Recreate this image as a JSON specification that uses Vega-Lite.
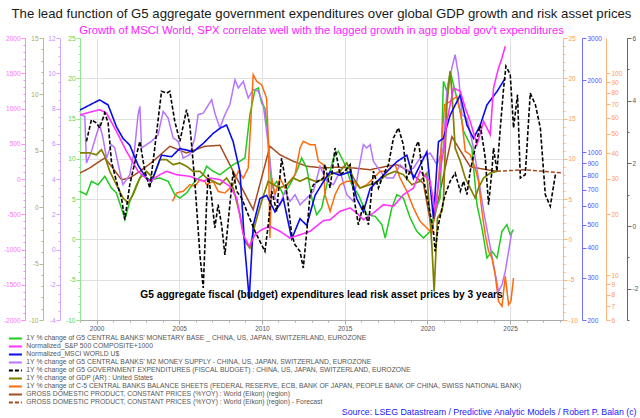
{
"$schema": "https://vega.github.io/schema/vega-lite/v6.json",
"width": 483, "height": 282,
"autosize": "none",
"padding": {"left": 80, "top": 38, "right": 77, "bottom": 98},
"title": {"text": "The lead function of G5 aggregate government expenditures over global GDP growth and risk asset prices", "subtitle": "Growth of MSCI World, SPX correlate well with the lagged growth in agg global gov't expenditures", "anchor": "middle", "frame": "group", "fontSize": 13.2, "fontWeight": "normal", "color": "#1a1a1a", "subtitleColor": "#ff1aff", "subtitleFontSize": 11.2, "subtitlePadding": 4, "offset": -2, "font": "Liberation Sans", "subtitleFont": "Liberation Sans"},
"data": {"values": [
{"k":"mb","t":1999.0,"v":5.97},{"k":"mb","t":1999.39,"v":5.55},{"k":"mb","t":1999.69,"v":7.21},{"k":"mb","t":2000.09,"v":6.79},{"k":"mb","t":2000.5,"v":7.84},{"k":"mb","t":2000.9,"v":6.38},{"k":"mb","t":2001.2,"v":5.76},{"k":"mb","t":2001.6,"v":3.28},{"k":"mb","t":2001.71,"v":2.45},{"k":"mb","t":2002.01,"v":4.73},{"k":"mb","t":2002.42,"v":6.79},{"k":"mb","t":2002.72,"v":8.03},{"k":"mb","t":2003.22,"v":7.41},{"k":"mb","t":2003.83,"v":7.62},{"k":"mb","t":2004.33,"v":7.21},{"k":"mb","t":2004.73,"v":5.55},{"k":"mb","t":2005.04,"v":5.14},{"k":"mb","t":2005.44,"v":5.76},{"k":"mb","t":2005.94,"v":7.21},{"k":"mb","t":2006.45,"v":8.03},{"k":"mb","t":2006.65,"v":9.08},{"k":"mb","t":2007.05,"v":8.46},{"k":"mb","t":2007.46,"v":8.03},{"k":"mb","t":2007.86,"v":8.65},{"k":"mb","t":2008.26,"v":9.28},{"k":"mb","t":2008.67,"v":9.7},{"k":"mb","t":2008.97,"v":10.11},{"k":"mb","t":2009.27,"v":15.48},{"k":"mb","t":2009.58,"v":18.58},{"k":"mb","t":2009.78,"v":18.79},{"k":"mb","t":2009.98,"v":16.93},{"k":"mb","t":2010.18,"v":16.31},{"k":"mb","t":2010.38,"v":12.59},{"k":"mb","t":2010.59,"v":6.38},{"k":"mb","t":2010.89,"v":7.21},{"k":"mb","t":2011.29,"v":5.55},{"k":"mb","t":2011.69,"v":6.79},{"k":"mb","t":2012.1,"v":8.46},{"k":"mb","t":2012.4,"v":10.11},{"k":"mb","t":2012.71,"v":8.87},{"k":"mb","t":2013.01,"v":5.14},{"k":"mb","t":2013.31,"v":3.07},{"k":"mb","t":2013.61,"v":3.9},{"k":"mb","t":2013.92,"v":6.79},{"k":"mb","t":2014.32,"v":10.11},{"k":"mb","t":2014.62,"v":10.94},{"k":"mb","t":2015.02,"v":9.28},{"k":"mb","t":2015.43,"v":6.79},{"k":"mb","t":2015.83,"v":5.55},{"k":"mb","t":2016.34,"v":3.07},{"k":"mb","t":2016.84,"v":2.87},{"k":"mb","t":2017.25,"v":1.83},{"k":"mb","t":2017.45,"v":0.18},{"k":"mb","t":2017.85,"v":3.9},{"k":"mb","t":2018.15,"v":5.55},{"k":"mb","t":2018.55,"v":5.14},{"k":"mb","t":2018.96,"v":2.66},{"k":"mb","t":2019.36,"v":1.01},{"k":"mb","t":2019.76,"v":0.18},{"k":"mb","t":2020.17,"v":1.01},{"k":"mb","t":2020.47,"v":3.49},{"k":"mb","t":2020.77,"v":5.14},{"k":"mb","t":2020.97,"v":19.63},{"k":"mb","t":2021.18,"v":18.38},{"k":"mb","t":2021.38,"v":20.87},{"k":"mb","t":2021.68,"v":18.38},{"k":"mb","t":2021.99,"v":15.9},{"k":"mb","t":2022.19,"v":13.42},{"k":"mb","t":2022.39,"v":12.59},{"k":"mb","t":2022.69,"v":11.35},{"k":"mb","t":2023.0,"v":4.31},{"k":"mb","t":2023.3,"v":1.42},{"k":"mb","t":2023.6,"v":-2.3},{"k":"mb","t":2023.9,"v":-1.47},{"k":"mb","t":2024.21,"v":-2.3},{"k":"mb","t":2024.51,"v":1.01},{"k":"mb","t":2024.81,"v":1.83},{"k":"mb","t":2025.01,"v":0.59},{"k":"mb","t":2025.21,"v":1.21},
{"k":"spx","t":1999.0,"v":912},{"k":"spx","t":2000.19,"v":983},{"k":"spx","t":2000.6,"v":936},{"k":"spx","t":2001.2,"v":677},{"k":"spx","t":2001.81,"v":393},{"k":"spx","t":2002.51,"v":109},{"k":"spx","t":2003.22,"v":-33},{"k":"spx","t":2003.83,"v":61},{"k":"spx","t":2004.23,"v":109},{"k":"spx","t":2004.84,"v":61},{"k":"spx","t":2005.64,"v":38},{"k":"spx","t":2006.45,"v":-33},{"k":"spx","t":2006.85,"v":14},{"k":"spx","t":2007.46,"v":-10},{"k":"spx","t":2008.06,"v":-103},{"k":"spx","t":2008.47,"v":-269},{"k":"spx","t":2008.87,"v":-790},{"k":"spx","t":2009.23,"v":-955},{"k":"spx","t":2009.58,"v":-790},{"k":"spx","t":2009.98,"v":-719},{"k":"spx","t":2010.48,"v":-671},{"k":"spx","t":2011.09,"v":-742},{"k":"spx","t":2011.69,"v":-837},{"k":"spx","t":2012.3,"v":-790},{"k":"spx","t":2012.91,"v":-742},{"k":"spx","t":2013.71,"v":-591},{"k":"spx","t":2014.12,"v":-577},{"k":"spx","t":2014.72,"v":-458},{"k":"spx","t":2015.33,"v":-411},{"k":"spx","t":2015.73,"v":-482},{"k":"spx","t":2016.13,"v":-577},{"k":"spx","t":2016.74,"v":-482},{"k":"spx","t":2017.34,"v":-364},{"k":"spx","t":2017.95,"v":-387},{"k":"spx","t":2018.55,"v":-223},{"k":"spx","t":2019.16,"v":-128},{"k":"spx","t":2019.56,"v":109},{"k":"spx","t":2020.17,"v":-33},{"k":"spx","t":2020.47,"v":-458},{"k":"spx","t":2020.77,"v":109},{"k":"spx","t":2021.04,"v":487},{"k":"spx","t":2021.18,"v":818},{"k":"spx","t":2021.58,"v":1291},{"k":"spx","t":2021.99,"v":1244},{"k":"spx","t":2022.29,"v":1007},{"k":"spx","t":2022.59,"v":818},{"k":"spx","t":2023.0,"v":487},{"k":"spx","t":2023.4,"v":818},{"k":"spx","t":2023.8,"v":628},{"k":"spx","t":2024.0,"v":1291},{"k":"spx","t":2024.3,"v":1574},{"k":"spx","t":2024.51,"v":1716},{"k":"spx","t":2024.71,"v":1882},
{"k":"msci","t":1999.0,"v":1503},{"k":"msci","t":1999.99,"v":1630},{"k":"msci","t":2000.19,"v":1655},{"k":"msci","t":2000.7,"v":1577},{"k":"msci","t":2001.2,"v":1281},{"k":"msci","t":2001.6,"v":1144},{"k":"msci","t":2002.01,"v":1072},{"k":"msci","t":2002.51,"v":885},{"k":"msci","t":2003.02,"v":778},{"k":"msci","t":2003.32,"v":754},{"k":"msci","t":2003.93,"v":974},{"k":"msci","t":2004.53,"v":959},{"k":"msci","t":2005.04,"v":1039},{"k":"msci","t":2005.84,"v":1006},{"k":"msci","t":2006.45,"v":1090},{"k":"msci","t":2007.05,"v":1200},{"k":"msci","t":2007.46,"v":1260},{"k":"msci","t":2007.86,"v":1301},{"k":"msci","t":2008.26,"v":1108},{"k":"msci","t":2008.67,"v":830},{"k":"msci","t":2008.97,"v":396},{"k":"msci","t":2009.23,"v":245},{"k":"msci","t":2009.47,"v":496},{"k":"msci","t":2009.88,"v":642},{"k":"msci","t":2010.28,"v":662},{"k":"msci","t":2010.79,"v":565},{"k":"msci","t":2011.29,"v":642},{"k":"msci","t":2011.8,"v":436},{"k":"msci","t":2012.3,"v":529},{"k":"msci","t":2012.71,"v":496},{"k":"msci","t":2013.21,"v":662},{"k":"msci","t":2013.71,"v":754},{"k":"msci","t":2014.12,"v":830},{"k":"msci","t":2014.72,"v":803},{"k":"msci","t":2015.33,"v":830},{"k":"msci","t":2015.73,"v":642},{"k":"msci","t":2016.13,"v":565},{"k":"msci","t":2016.54,"v":707},{"k":"msci","t":2016.94,"v":754},{"k":"msci","t":2017.55,"v":830},{"k":"msci","t":2018.15,"v":914},{"k":"msci","t":2018.76,"v":974},{"k":"msci","t":2019.16,"v":778},{"k":"msci","t":2019.56,"v":885},{"k":"msci","t":2019.97,"v":1006},{"k":"msci","t":2020.37,"v":529},{"k":"msci","t":2020.67,"v":1108},{"k":"msci","t":2020.97,"v":1144},{"k":"msci","t":2021.38,"v":1432},{"k":"msci","t":2021.99,"v":1737},{"k":"msci","t":2022.39,"v":1301},{"k":"msci","t":2022.79,"v":1144},{"k":"msci","t":2023.2,"v":1301},{"k":"msci","t":2023.6,"v":1577},{"k":"msci","t":2024.21,"v":1795},{"k":"msci","t":2024.71,"v":2040},
{"k":"m2","t":1999.0,"v":7.65},{"k":"m2","t":1999.29,"v":7.56},{"k":"m2","t":1999.39,"v":4.91},{"k":"m2","t":1999.69,"v":5.57},{"k":"m2","t":1999.99,"v":6.51},{"k":"m2","t":2000.19,"v":7.08},{"k":"m2","t":2000.39,"v":6.33},{"k":"m2","t":2000.6,"v":5.19},{"k":"m2","t":2000.9,"v":5.95},{"k":"m2","t":2001.1,"v":5.76},{"k":"m2","t":2001.4,"v":4.44},{"k":"m2","t":2001.6,"v":3.68},{"k":"m2","t":2002.01,"v":4.24},{"k":"m2","t":2002.31,"v":5.76},{"k":"m2","t":2002.51,"v":7.65},{"k":"m2","t":2002.62,"v":8.12},{"k":"m2","t":2002.72,"v":5.76},{"k":"m2","t":2003.02,"v":5.95},{"k":"m2","t":2003.32,"v":6.14},{"k":"m2","t":2003.72,"v":6.51},{"k":"m2","t":2004.03,"v":7.84},{"k":"m2","t":2004.33,"v":7.46},{"k":"m2","t":2004.63,"v":6.33},{"k":"m2","t":2004.93,"v":6.14},{"k":"m2","t":2005.24,"v":5.19},{"k":"m2","t":2005.64,"v":5.38},{"k":"m2","t":2005.94,"v":6.33},{"k":"m2","t":2006.14,"v":7.65},{"k":"m2","t":2006.45,"v":7.74},{"k":"m2","t":2006.65,"v":8.03},{"k":"m2","t":2006.96,"v":8.5},{"k":"m2","t":2007.15,"v":7.74},{"k":"m2","t":2007.46,"v":6.89},{"k":"m2","t":2007.76,"v":7.65},{"k":"m2","t":2008.06,"v":8.22},{"k":"m2","t":2008.37,"v":9.63},{"k":"m2","t":2008.57,"v":9.16},{"k":"m2","t":2008.87,"v":9.54},{"k":"m2","t":2009.17,"v":8.6},{"k":"m2","t":2009.47,"v":9.07},{"k":"m2","t":2009.78,"v":8.98},{"k":"m2","t":2010.08,"v":8.22},{"k":"m2","t":2010.38,"v":5.95},{"k":"m2","t":2010.59,"v":4.06},{"k":"m2","t":2010.79,"v":2.92},{"k":"m2","t":2011.09,"v":2.54},{"k":"m2","t":2011.39,"v":3.3},{"k":"m2","t":2011.69,"v":2.73},{"k":"m2","t":2012.0,"v":3.11},{"k":"m2","t":2012.3,"v":2.54},{"k":"m2","t":2012.71,"v":2.92},{"k":"m2","t":2013.11,"v":3.3},{"k":"m2","t":2013.51,"v":4.72},{"k":"m2","t":2013.92,"v":3.87},{"k":"m2","t":2014.32,"v":3.68},{"k":"m2","t":2014.72,"v":4.44},{"k":"m2","t":2015.13,"v":3.11},{"k":"m2","t":2015.53,"v":2.73},{"k":"m2","t":2015.83,"v":4.44},{"k":"m2","t":2016.13,"v":5.95},{"k":"m2","t":2016.34,"v":5.76},{"k":"m2","t":2016.54,"v":5.95},{"k":"m2","t":2016.74,"v":5.0},{"k":"m2","t":2017.14,"v":4.44},{"k":"m2","t":2017.55,"v":4.06},{"k":"m2","t":2017.95,"v":4.06},{"k":"m2","t":2018.35,"v":4.81},{"k":"m2","t":2018.76,"v":4.44},{"k":"m2","t":2019.16,"v":4.62},{"k":"m2","t":2019.56,"v":5.19},{"k":"m2","t":2020.17,"v":5.47},{"k":"m2","t":2020.58,"v":4.81},{"k":"m2","t":2020.97,"v":5.76},{"k":"m2","t":2021.18,"v":8.98},{"k":"m2","t":2021.48,"v":10.3},{"k":"m2","t":2021.68,"v":11.05},{"k":"m2","t":2021.88,"v":9.92},{"k":"m2","t":2022.09,"v":7.65},{"k":"m2","t":2022.39,"v":7.46},{"k":"m2","t":2022.79,"v":5.76},{"k":"m2","t":2023.09,"v":4.06},{"k":"m2","t":2023.4,"v":2.17},{"k":"m2","t":2023.7,"v":0.65},{"k":"m2","t":2024.0,"v":-0.86},{"k":"m2","t":2024.3,"v":-2.37},{"k":"m2","t":2024.51,"v":-2.0},{"k":"m2","t":2024.71,"v":-1.24},{"k":"m2","t":2024.91,"v":-0.1},{"k":"m2","t":2025.11,"v":1.03},
{"k":"gov","t":1999.39,"v":2.7},{"k":"gov","t":1999.69,"v":3.39},{"k":"gov","t":1999.99,"v":3.29},{"k":"gov","t":2000.19,"v":3.13},{"k":"gov","t":2000.5,"v":3.61},{"k":"gov","t":2000.7,"v":3.29},{"k":"gov","t":2000.9,"v":2.06},{"k":"gov","t":2001.2,"v":1.43},{"k":"gov","t":2001.51,"v":0.89},{"k":"gov","t":2001.71,"v":0.2},{"k":"gov","t":2002.01,"v":1.32},{"k":"gov","t":2002.42,"v":2.28},{"k":"gov","t":2002.62,"v":2.7},{"k":"gov","t":2002.92,"v":1.75},{"k":"gov","t":2003.22,"v":1.21},{"k":"gov","t":2003.52,"v":2.49},{"k":"gov","t":2003.93,"v":4.3},{"k":"gov","t":2004.23,"v":4.24},{"k":"gov","t":2004.43,"v":4.3},{"k":"gov","t":2004.73,"v":3.34},{"k":"gov","t":2005.04,"v":2.7},{"k":"gov","t":2005.44,"v":3.71},{"k":"gov","t":2005.64,"v":3.23},{"k":"gov","t":2005.94,"v":1.43},{"k":"gov","t":2006.25,"v":-0.92},{"k":"gov","t":2006.45,"v":-1.98},{"k":"gov","t":2006.65,"v":0.68},{"k":"gov","t":2006.75,"v":1.64},{"k":"gov","t":2006.96,"v":0.89},{"k":"gov","t":2007.15,"v":-0.06},{"k":"gov","t":2007.35,"v":0.68},{"k":"gov","t":2007.56,"v":0.04},{"k":"gov","t":2007.76,"v":-0.92},{"k":"gov","t":2008.06,"v":0.68},{"k":"gov","t":2008.26,"v":1.75},{"k":"gov","t":2008.47,"v":1.11},{"k":"gov","t":2008.77,"v":0.89},{"k":"gov","t":2009.17,"v":0.36},{"k":"gov","t":2009.58,"v":-0.17},{"k":"gov","t":2009.88,"v":-0.49},{"k":"gov","t":2010.18,"v":-0.81},{"k":"gov","t":2010.38,"v":0.04},{"k":"gov","t":2010.59,"v":1.11},{"k":"gov","t":2010.89,"v":0.47},{"k":"gov","t":2011.19,"v":2.17},{"k":"gov","t":2011.39,"v":1.53},{"k":"gov","t":2011.59,"v":0.68},{"k":"gov","t":2011.8,"v":-0.28},{"k":"gov","t":2012.0,"v":-0.6},{"k":"gov","t":2012.3,"v":-0.81},{"k":"gov","t":2012.5,"v":-1.34},{"k":"gov","t":2012.71,"v":-0.17},{"k":"gov","t":2012.91,"v":1.0},{"k":"gov","t":2013.11,"v":1.32},{"k":"gov","t":2013.41,"v":1.43},{"k":"gov","t":2013.71,"v":1.53},{"k":"gov","t":2013.81,"v":1.96},{"k":"gov","t":2014.12,"v":1.21},{"k":"gov","t":2014.42,"v":2.49},{"k":"gov","t":2014.72,"v":1.64},{"k":"gov","t":2015.02,"v":1.75},{"k":"gov","t":2015.33,"v":1.96},{"k":"gov","t":2015.63,"v":0.68},{"k":"gov","t":2015.83,"v":0.04},{"k":"gov","t":2016.13,"v":0.68},{"k":"gov","t":2016.44,"v":0.04},{"k":"gov","t":2016.74,"v":1.75},{"k":"gov","t":2017.04,"v":1.21},{"k":"gov","t":2017.34,"v":1.64},{"k":"gov","t":2017.65,"v":1.96},{"k":"gov","t":2017.95,"v":2.81},{"k":"gov","t":2018.25,"v":3.13},{"k":"gov","t":2018.55,"v":2.59},{"k":"gov","t":2018.76,"v":1.53},{"k":"gov","t":2018.96,"v":1.75},{"k":"gov","t":2019.26,"v":2.49},{"k":"gov","t":2019.46,"v":2.7},{"k":"gov","t":2019.76,"v":1.53},{"k":"gov","t":2020.07,"v":0.68},{"k":"gov","t":2020.37,"v":-0.17},{"k":"gov","t":2020.47,"v":-0.81},{"k":"gov","t":2020.67,"v":0.04},{"k":"gov","t":2020.97,"v":0.79},{"k":"gov","t":2021.08,"v":1.0},{"k":"gov","t":2021.38,"v":1.43},{"k":"gov","t":2021.68,"v":1.69},{"k":"gov","t":2021.99,"v":1.11},{"k":"gov","t":2022.19,"v":1.43},{"k":"gov","t":2022.39,"v":1.0},{"k":"gov","t":2022.59,"v":1.75},{"k":"gov","t":2022.89,"v":2.49},{"k":"gov","t":2023.2,"v":3.23},{"k":"gov","t":2023.5,"v":2.17},{"k":"gov","t":2023.7,"v":0.68},{"k":"gov","t":2023.9,"v":1.75},{"k":"gov","t":2024.0,"v":2.49},{"k":"gov","t":2024.21,"v":1.75},{"k":"gov","t":2024.41,"v":3.13},{"k":"gov","t":2024.61,"v":4.4},{"k":"gov","t":2024.75,"v":5.1},{"k":"gov","t":2025.01,"v":4.83},{"k":"gov","t":2025.21,"v":3.13},{"k":"gov","t":2025.45,"v":4.19},{"k":"gov","t":2025.62,"v":1.53},{"k":"gov","t":2025.92,"v":1.64},{"k":"gov","t":2026.22,"v":4.24},{"k":"gov","t":2026.53,"v":3.87},{"k":"gov","t":2026.83,"v":3.13},{"k":"gov","t":2027.13,"v":1.0},{"k":"gov","t":2027.43,"v":0.63},{"k":"gov","t":2027.74,"v":1.64},
{"k":"usgdp","t":1999.0,"v":4.81},{"k":"usgdp","t":1999.59,"v":4.81},{"k":"usgdp","t":1999.99,"v":4.65},{"k":"usgdp","t":2000.3,"v":5.1},{"k":"usgdp","t":2000.5,"v":4.51},{"k":"usgdp","t":2000.8,"v":3.18},{"k":"usgdp","t":2001.2,"v":2.0},{"k":"usgdp","t":2001.6,"v":0.82},{"k":"usgdp","t":2001.91,"v":0.37},{"k":"usgdp","t":2002.21,"v":1.11},{"k":"usgdp","t":2002.62,"v":2.59},{"k":"usgdp","t":2003.02,"v":3.18},{"k":"usgdp","t":2003.42,"v":2.59},{"k":"usgdp","t":2003.83,"v":4.21},{"k":"usgdp","t":2004.23,"v":4.21},{"k":"usgdp","t":2004.63,"v":3.77},{"k":"usgdp","t":2005.04,"v":3.92},{"k":"usgdp","t":2005.44,"v":3.63},{"k":"usgdp","t":2005.84,"v":3.18},{"k":"usgdp","t":2006.25,"v":3.18},{"k":"usgdp","t":2006.65,"v":2.59},{"k":"usgdp","t":2007.05,"v":2.3},{"k":"usgdp","t":2007.46,"v":2.0},{"k":"usgdp","t":2007.86,"v":2.59},{"k":"usgdp","t":2008.26,"v":1.7},{"k":"usgdp","t":2008.67,"v":-0.66},{"k":"usgdp","t":2008.97,"v":-3.02},{"k":"usgdp","t":2009.27,"v":-3.62},{"k":"usgdp","t":2009.58,"v":-1.55},{"k":"usgdp","t":2009.98,"v":0.52},{"k":"usgdp","t":2010.38,"v":2.3},{"k":"usgdp","t":2010.68,"v":2.0},{"k":"usgdp","t":2011.09,"v":1.7},{"k":"usgdp","t":2011.5,"v":2.0},{"k":"usgdp","t":2011.89,"v":2.59},{"k":"usgdp","t":2012.3,"v":2.3},{"k":"usgdp","t":2012.71,"v":2.59},{"k":"usgdp","t":2013.21,"v":2.3},{"k":"usgdp","t":2013.71,"v":2.44},{"k":"usgdp","t":2014.12,"v":2.88},{"k":"usgdp","t":2014.72,"v":3.18},{"k":"usgdp","t":2015.13,"v":3.92},{"k":"usgdp","t":2015.53,"v":2.59},{"k":"usgdp","t":2015.93,"v":1.7},{"k":"usgdp","t":2016.54,"v":2.0},{"k":"usgdp","t":2017.04,"v":2.3},{"k":"usgdp","t":2017.55,"v":2.88},{"k":"usgdp","t":2018.05,"v":3.18},{"k":"usgdp","t":2018.55,"v":2.88},{"k":"usgdp","t":2019.06,"v":2.0},{"k":"usgdp","t":2019.56,"v":2.3},{"k":"usgdp","t":2019.97,"v":3.03},{"k":"usgdp","t":2020.27,"v":-3.32},{"k":"usgdp","t":2020.41,"v":-7.46},{"k":"usgdp","t":2020.61,"v":-0.96},{"k":"usgdp","t":2020.88,"v":-0.36},{"k":"usgdp","t":2020.97,"v":0.52},{"k":"usgdp","t":2021.18,"v":9.09},{"k":"usgdp","t":2021.38,"v":12.05},{"k":"usgdp","t":2021.48,"v":10.27},{"k":"usgdp","t":2021.68,"v":5.25},{"k":"usgdp","t":2021.99,"v":4.07},{"k":"usgdp","t":2022.29,"v":2.59},{"k":"usgdp","t":2022.59,"v":1.7},{"k":"usgdp","t":2022.89,"v":0.82},{"k":"usgdp","t":2023.09,"v":1.7},{"k":"usgdp","t":2023.4,"v":2.59},{"k":"usgdp","t":2023.8,"v":3.03},{"k":"usgdp","t":2024.21,"v":3.18},
{"k":"cb5","t":2004.59,"v":4.73},{"k":"cb5","t":2004.84,"v":5.76},{"k":"cb5","t":2005.24,"v":5.97},{"k":"cb5","t":2005.64,"v":6.79},{"k":"cb5","t":2005.94,"v":6.59},{"k":"cb5","t":2006.25,"v":7.41},{"k":"cb5","t":2006.55,"v":7.21},{"k":"cb5","t":2006.65,"v":6.79},{"k":"cb5","t":2007.05,"v":7.21},{"k":"cb5","t":2007.35,"v":5.97},{"k":"cb5","t":2007.76,"v":5.76},{"k":"cb5","t":2008.26,"v":6.79},{"k":"cb5","t":2008.57,"v":8.46},{"k":"cb5","t":2008.87,"v":7.62},{"k":"cb5","t":2009.17,"v":8.87},{"k":"cb5","t":2009.38,"v":16.72},{"k":"cb5","t":2009.47,"v":20.45},{"k":"cb5","t":2009.68,"v":19.63},{"k":"cb5","t":2009.98,"v":19.2},{"k":"cb5","t":2010.28,"v":17.55},{"k":"cb5","t":2010.38,"v":12.59},{"k":"cb5","t":2010.48,"v":0.18},{"k":"cb5","t":2010.59,"v":7.62},{"k":"cb5","t":2010.79,"v":5.55},{"k":"cb5","t":2011.09,"v":7.62},{"k":"cb5","t":2011.39,"v":6.38},{"k":"cb5","t":2011.69,"v":7.21},{"k":"cb5","t":2012.0,"v":8.03},{"k":"cb5","t":2012.3,"v":11.35},{"k":"cb5","t":2012.5,"v":12.18},{"k":"cb5","t":2012.91,"v":11.76},{"k":"cb5","t":2013.21,"v":11.76},{"k":"cb5","t":2013.41,"v":9.7},{"k":"cb5","t":2013.71,"v":9.28},{"k":"cb5","t":2013.81,"v":5.55},{"k":"cb5","t":2014.12,"v":3.49},{"k":"cb5","t":2014.42,"v":5.55},{"k":"cb5","t":2014.72,"v":6.79},{"k":"cb5","t":2015.13,"v":7.21},{"k":"cb5","t":2015.53,"v":7.21},{"k":"cb5","t":2015.93,"v":6.38},{"k":"cb5","t":2016.34,"v":6.79},{"k":"cb5","t":2016.74,"v":7.62},{"k":"cb5","t":2017.14,"v":8.46},{"k":"cb5","t":2017.55,"v":8.46},{"k":"cb5","t":2017.85,"v":9.08},{"k":"cb5","t":2018.05,"v":9.28},{"k":"cb5","t":2018.35,"v":7.62},{"k":"cb5","t":2018.76,"v":5.97},{"k":"cb5","t":2019.16,"v":3.9},{"k":"cb5","t":2019.56,"v":2.25},{"k":"cb5","t":2019.97,"v":1.42},{"k":"cb5","t":2020.27,"v":0.8},{"k":"cb5","t":2020.58,"v":5.14},{"k":"cb5","t":2020.88,"v":12.59},{"k":"cb5","t":2021.04,"v":16.72},{"k":"cb5","t":2021.38,"v":17.14},{"k":"cb5","t":2021.79,"v":17.76},{"k":"cb5","t":2022.09,"v":14.66},{"k":"cb5","t":2022.29,"v":10.94},{"k":"cb5","t":2022.59,"v":10.52},{"k":"cb5","t":2022.89,"v":8.87},{"k":"cb5","t":2023.09,"v":7.21},{"k":"cb5","t":2023.3,"v":3.49},{"k":"cb5","t":2023.5,"v":0.59},{"k":"cb5","t":2023.7,"v":-1.47},{"k":"cb5","t":2023.9,"v":-2.3},{"k":"cb5","t":2024.1,"v":-4.38},{"k":"cb5","t":2024.3,"v":-7.68},{"k":"cb5","t":2024.51,"v":-8.3},{"k":"cb5","t":2024.71,"v":-4.58},{"k":"cb5","t":2024.91,"v":-8.1},{"k":"cb5","t":2025.05,"v":-7.68},{"k":"cb5","t":2025.21,"v":-4.79},
{"k":"wgdp","t":1999.0,"v":3.03},{"k":"wgdp","t":1999.59,"v":3.48},{"k":"wgdp","t":2000.19,"v":4.07},{"k":"wgdp","t":2000.5,"v":4.36},{"k":"wgdp","t":2000.9,"v":3.63},{"k":"wgdp","t":2001.51,"v":2.44},{"k":"wgdp","t":2002.01,"v":2.59},{"k":"wgdp","t":2002.62,"v":3.18},{"k":"wgdp","t":2003.42,"v":4.07},{"k":"wgdp","t":2004.43,"v":5.4},{"k":"wgdp","t":2005.44,"v":4.81},{"k":"wgdp","t":2006.55,"v":5.4},{"k":"wgdp","t":2007.46,"v":5.49},{"k":"wgdp","t":2008.26,"v":3.18},{"k":"wgdp","t":2009.47,"v":-0.22},{"k":"wgdp","t":2010.48,"v":5.4},{"k":"wgdp","t":2011.09,"v":4.65},{"k":"wgdp","t":2011.89,"v":4.07},{"k":"wgdp","t":2012.71,"v":3.63},{"k":"wgdp","t":2013.71,"v":3.48},{"k":"wgdp","t":2014.52,"v":3.54},{"k":"wgdp","t":2015.53,"v":3.48},{"k":"wgdp","t":2016.54,"v":3.32},{"k":"wgdp","t":2017.55,"v":3.63},{"k":"wgdp","t":2018.15,"v":3.77},{"k":"wgdp","t":2018.76,"v":3.3},{"k":"wgdp","t":2019.76,"v":2.12},{"k":"wgdp","t":2020.27,"v":-2.02},{"k":"wgdp","t":2021.48,"v":6.25},{"k":"wgdp","t":2022.59,"v":3.59},{"k":"wgdp","t":2023.6,"v":3.32},{"k":"wgdp","t":2024.21,"v":3.18},
{"k":"wgdpf","t":2024.21,"v":3.18},{"k":"wgdpf","t":2025.82,"v":3.32},{"k":"wgdpf","t":2026.83,"v":3.2},{"k":"wgdpf","t":2028.2,"v":3.03}
]},
"encoding": {
"x": {"field": "t", "type": "quantitative", "scale": {"domain": [1999, 2028.2], "nice": false, "zero": false},
 "axis": {"values": [1999,2000,2001,2002,2003,2004,2005,2006,2007,2008,2009,2010,2011,2012,2013,2014,2015,2016,2017,2018,2019,2020,2021,2022,2023,2024,2025,2026,2027,2028], "labelExpr": "datum.value % 5 === 0 ? '' + datum.value : ''", "tickSize": {"condition": {"test": "datum.value % 5 === 0", "value": 4}, "value": 2}, "grid": true, "gridColor": "#e0e0e0", "gridOpacity": {"condition": {"test": "datum.value % 5 === 0", "value": 1}, "value": 0}, "domainColor": "#aaaaaa", "tickColor": "#aaaaaa", "labelColor": "#555555", "labelFontSize": 6.5, "title": "Source: LSEG Datastream / Predictive Analytic Models / Robert P. Balan (c)", "titleColor": "#1a1aff", "titleFontSize": 8.8, "titleFontWeight": "normal", "titleAnchor": "end", "titleAlign": "right", "titleX": 556, "titleY": 96, "titleBaseline": "bottom"}}
},
"layer": [
{"layer": [
{"transform": [{"filter": "datum.k === 'wgdp'"}], "mark": {"type": "line", "strokeWidth": 1.5},
 "encoding": {"y": {"field": "v", "type": "quantitative", "scale": {"domain": [-10, 15], "nice": false, "zero": false}, "axis": null}}},
{"transform": [{"filter": "datum.k === 'wgdpf'"}], "mark": {"type": "line", "strokeWidth": 1.5},
 "encoding": {"y": {"field": "v", "type": "quantitative", "scale": {"domain": [-10, 15], "nice": false, "zero": false}, "axis": null}}},
{"transform": [{"filter": "datum.k === 'mb'"}], "mark": {"type": "line", "strokeWidth": 1.5},
 "encoding": {"y": {"field": "v", "type": "quantitative", "scale": {"domain": [-10, 25], "nice": false, "zero": false},
  "axis": {"orient": "left", "offset": 0, "title": null, "values": [-10,-9,-8,-7,-6,-5,-4,-3,-2,-1,0,1,2,3,4,5,6,7,8,9,10,11,12,13,14,15,16,17,18,19,20,21,22,23,24,25], "labelExpr": "datum.value % 5 === 0 ? '' + datum.value : ''", "tickSize": {"condition": {"test": "datum.value % 5 === 0", "value": 4}, "value": 2}, "domainColor": "#8ee88e", "tickColor": "#8ee88e", "labelColor": "#52d452", "grid": true, "gridColor": "#e0e0e0", "gridOpacity": {"condition": {"test": "datum.value % 5 === 0 && datum.value > -10 && datum.value < 25", "value": 1}, "value": 0}}}}},
{"transform": [{"filter": "datum.k === 'm2'"}], "mark": {"type": "line", "strokeWidth": 1.5},
 "encoding": {"y": {"field": "v", "type": "quantitative", "scale": {"domain": [-4, 12], "nice": false, "zero": false},
  "axis": {"orient": "left", "offset": 20, "title": null, "values": [-4,-3.5,-3,-2.5,-2,-1.5,-1,-0.5,0,0.5,1,1.5,2,2.5,3,3.5,4,4.5,5,5.5,6,6.5,7,7.5,8,8.5,9,9.5,10,10.5,11,11.5,12], "labelExpr": "datum.value % 2 === 0 ? '' + datum.value : ''", "tickSize": {"condition": {"test": "datum.value % 2 === 0", "value": 4}, "value": 2}, "domainColor": "#cfa8ff", "tickColor": "#cfa8ff", "labelColor": "#c08cff"}}}},
{"transform": [{"filter": "datum.k === 'cb5'"}], "mark": {"type": "line", "strokeWidth": 1.5},
 "encoding": {"y": {"field": "v", "type": "quantitative", "scale": {"domain": [-10, 25], "nice": false, "zero": false},
  "axis": {"orient": "right", "offset": 0, "title": null, "values": [-10,-9,-8,-7,-6,-5,-4,-3,-2,-1,0,1,2,3,4,5,6,7,8,9,10,11,12,13,14,15,16,17,18,19,20,21,22,23,24,25], "labelExpr": "datum.value % 5 === 0 ? '' + datum.value : ''", "tickSize": {"condition": {"test": "datum.value % 5 === 0", "value": 4}, "value": 2}, "domainColor": "#ffb27a", "tickColor": "#ffb27a", "labelColor": "#ff9a55"}}}},
{"transform": [{"filter": "datum.k === 'usgdp'"}], "mark": {"type": "line", "strokeWidth": 1.7},
 "encoding": {"y": {"field": "v", "type": "quantitative", "scale": {"domain": [-10, 15], "nice": false, "zero": false},
  "axis": {"orient": "left", "offset": 37, "title": null, "values": [-10,-9,-8,-7,-6,-5,-4,-3,-2,-1,0,1,2,3,4,5,6,7,8,9,10,11,12,13,14,15], "labelExpr": "datum.value % 5 === 0 ? '' + datum.value : ''", "tickSize": {"condition": {"test": "datum.value % 5 === 0", "value": 4}, "value": 2}, "domainColor": "#bdbd75", "tickColor": "#bdbd75", "labelColor": "#a8a860"}}}},
{"transform": [{"filter": "datum.k === 'msci'"}], "mark": {"type": "line", "strokeWidth": 1.6},
 "encoding": {"y": {"field": "v", "type": "quantitative", "scale": {"type": "log", "domain": [200, 3000], "nice": false, "zero": false},
  "axis": {"orient": "right", "offset": 19, "title": null, "values": [200,300,400,500,600,700,800,900,1000,2000,3000], "labelExpr": "'' + datum.value", "tickSize": 4, "domainColor": "#7070ff", "tickColor": "#7070ff", "labelColor": "#5050ff"}}}},
{"transform": [{"filter": "datum.k === 'spx'"}], "mark": {"type": "line", "strokeWidth": 1.6},
 "encoding": {"y": {"field": "v", "type": "quantitative", "scale": {"domain": [-2000, 2000], "nice": false, "zero": false},
  "axis": {"orient": "left", "offset": 55, "title": null, "values": [-2000,-1900,-1800,-1700,-1600,-1500,-1400,-1300,-1200,-1100,-1000,-900,-800,-700,-600,-500,-400,-300,-200,-100,0,100,200,300,400,500,600,700,800,900,1000,1100,1200,1300,1400,1500,1600,1700,1800,1900,2000], "labelExpr": "datum.value % 500 === 0 ? '' + datum.value : ''", "tickSize": {"condition": {"test": "datum.value % 500 === 0", "value": 4}, "value": 2}, "domainColor": "#ff85ff", "tickColor": "#ff85ff", "labelColor": "#ff70ff"}}}},
{"transform": [{"filter": "datum.k === 'gov'"}], "mark": {"type": "line", "strokeWidth": 1.6},
 "encoding": {"y": {"field": "v", "type": "quantitative", "scale": {"domain": [-3, 6], "nice": false, "zero": false},
  "axis": {"orient": "right", "offset": 64, "title": null, "values": [-3,-2,-1,0,1,2,3,4,5,6], "labelExpr": "datum.value % 2 === 0 ? '' + datum.value : ''", "tickSize": {"condition": {"test": "datum.value % 2 === 0", "value": 4}, "value": 2}, "domainColor": "#666666", "tickColor": "#666666", "labelColor": "#555555"}}}},
{"transform": [{"filter": "false"}], "mark": {"type": "line"},
 "encoding": {"y": {"field": "v", "type": "quantitative", "scale": {"type": "log", "domain": [6, 149], "nice": false, "zero": false},
  "axis": {"orient": "right", "offset": 43, "title": null, "values": [6,7,8,9,10,20,30,40,50,60,70,80,90,100], "labelExpr": "'' + datum.value", "tickSize": 4, "domainColor": "#ffb27a", "tickColor": "#ffb27a", "labelColor": "#ff9a55"}}}}
],
"encoding": {
"color": {"field": "k", "type": "nominal",
 "scale": {"domain": ["mb","spx","msci","m2","gov","usgdp","cb5","wgdp","wgdpf"], "range": ["#1ecb1e","#ff33ff","#0a0aee","#b574ff","#000000","#808000","#ff6a0e","#a44b1f","#a44b1f"]},
 "legend": {"orient": "none", "legendX": -68, "legendY": 297, "direction": "vertical", "title": null, "padding": 0, "labelFontSize": 6.8, "labelColor": "#555555", "labelLimit": 1000, "labelOffset": 7.5, "symbolType": "M-3.25,0H3.25", "symbolSize": 16, "symbolStrokeWidth": 2, "rowPadding": -1,
  "labelExpr": "datum.label === 'mb' ? \"1Y % change of G5 CENTRAL BANKS' MONETARY BASE _ CHINA, US, JAPAN, SWITZERLAND, EUROZONE\" : datum.label === 'spx' ? 'Normalized_S&P 500 COMPOSITE+1000' : datum.label === 'msci' ? 'Normalized_MSCI WORLD U$' : datum.label === 'm2' ? \"1Y % change of G5 CENTRAL BANKS' M2 MONEY SUPPLY - CHINA, US, JAPAN, SWITZERLAND, EUROZONE\" : datum.label === 'gov' ? '1Y % change of G5 GOVERNMENT EXPENDITURES (FISCAL BUDGET) : CHINA, US, JAPAN, SWITZERLAND, EUROZONE' : datum.label === 'usgdp' ? '1Y % change of GDP (AR) : United States' : datum.label === 'cb5' ? '1Y % change of C-5 CENTRAL BANKS BALANCE SHEETS (FEDERAL RESERVE, ECB, BANK OF JAPAN, PEOPLE BANK OF CHINA, SWISS NATIONAL BANK)' : datum.label === 'wgdp' ? 'GROSS DOMESTIC PRODUCT, CONSTANT PRICES (%YOY) : World (Eikon) (region)' : 'GROSS DOMESTIC PRODUCT, CONSTANT PRICES (%YOY) : World (Eikon) (region) - Forecast'"}},
"strokeDash": {"field": "k", "type": "nominal",
 "scale": {"domain": ["mb","spx","msci","m2","gov","usgdp","cb5","wgdp","wgdpf"], "range": [[1,0],[1,0],[1,0],[1,0],[4,2],[1,0],[1,0],[1,0],[4,2]]}}
},
"resolve": {"scale": {"y": "independent"}, "axis": {"y": "independent"}}
},
{"data": {"values": [{"t": 2013.6, "v": -6.9, "label": "G5 aggregate fiscal (budget) expenditures lead risk asset prices by 3 years"}]},
 "mark": {"type": "text", "fontWeight": "bold", "fontSize": 10.2, "font": "Liberation Sans", "color": "#000000"},
 "encoding": {"y": {"field": "v", "type": "quantitative", "scale": {"domain": [-10, 25], "nice": false, "zero": false}, "axis": null}, "text": {"field": "label", "type": "nominal"}}}
],
"resolve": {"scale": {"y": "independent"}, "axis": {"y": "independent"}},
"config": {"font": "Liberation Sans", "view": {"stroke": null}, "axis": {"grid": false, "labelFontSize": 6.5, "labelPadding": 1, "domainWidth": 1, "tickWidth": 1, "labelFont": "Liberation Sans"}}
}
